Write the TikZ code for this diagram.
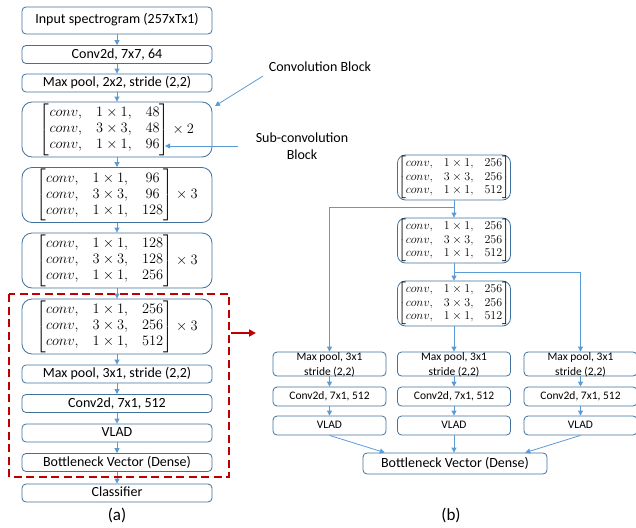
\documentclass[tikz,border=0pt]{standalone}
\usepackage{amsmath}
\usepackage{fontspec}
\setmainfont{Carlito}
\usetikzlibrary{arrows.meta,calc}
\definecolor{bord}{RGB}{65,113,156}
\definecolor{arrc}{RGB}{91,155,213}
\definecolor{dred}{RGB}{192,0,0}
\newcommand{\cmatL}[4]{$\left[\begin{array}{@{}l@{\hspace{14pt}}l@{\hspace{14pt}}c@{}} conv, & 1\times 1, & #1\\ conv, & 3\times 3, & #2\\ conv, & 1\times 1, & #3 \end{array}\right]\times #4$}
\newcommand{\cmatS}{$\left[\begin{array}{@{}l@{\hspace{11pt}}l@{\hspace{11pt}}c@{}} conv, & 1\times 1, & 256\\ conv, & 3\times 3, & 256\\ conv, & 1\times 1, & 512 \end{array}\right]$}
\tikzset{
  base/.style={draw=bord, line width=0.8pt, fill=white, inner sep=0pt},
  box/.style={base, rounded corners=4pt, minimum width=190pt, minimum height=18pt, font=\fontsize{14}{16}\selectfont, text height=10pt, text depth=3pt},
  blk/.style={base, rounded corners=10pt, minimum width=190pt, minimum height=55pt, font=\fontsize{14}{16}\selectfont},
  sbox/.style={base, rounded corners=4pt, minimum width=113pt, minimum height=19pt, font=\fontsize{11.5}{15}\selectfont, text height=8pt, text depth=2.5pt},
  sblk/.style={base, rounded corners=8pt, minimum width=113pt, minimum height=45pt, font=\fontsize{11.5}{13.5}\selectfont},
  link/.style={draw=arrc, line width=0.8pt, -{Triangle[length=5pt,width=5pt]}},
  note/.style={font=\fontsize{14}{17}\selectfont, align=center, inner sep=0pt},
  panellabel/.style={font=\fontsize{17}{20}\selectfont, inner sep=0pt},
}
\begin{document}
\begin{tikzpicture}[x=1pt,y=-1pt]
\useasboundingbox (0,0) rectangle (636,527);
% ---- panel (a)
\node[box, minimum height=27pt] (in) at (117,20.5) {Input spectrogram (257xTx1)};
\node[box] (c1) at (117,54.5) {Conv2d, 7x7, 64};
\node[box] (mp) at (117,83) {Max pool, 2x2, stride (2,2)};
\node[blk] (b1) at (117,129.5) {\cmatL{48}{48}{96}{2}};
\node[blk] (b2) at (117,195) {\cmatL{96}{96}{128}{3}};
\node[blk] (b3) at (117,260.5) {\cmatL{128}{128}{256}{3}};
\node[blk] (b4) at (117,326.5) {\cmatL{256}{256}{512}{3}};
\node[box] (mp2) at (117,374) {Max pool, 3x1, stride (2,2)};
\node[box] (cv2) at (117,403.5) {Conv2d, 7x1, 512};
\node[box] (vl) at (117,433) {VLAD};
\node[box] (bn) at (117,462.5) {Bottleneck Vector (Dense)};
\node[box] (cls) at (117,493) {Classifier};
\foreach \a/\b in {in/c1,c1/mp,mp/b1,b1/b2,b2/b3,b3/b4,b4/mp2,mp2/cv2,cv2/vl,vl/bn,bn/cls}
  \draw[link] (\a.south) -- (\b.north);
\node[panellabel] (la) at (117,515) {(a)};
% dashed region
\draw[dred, line width=1.7pt, dash pattern=on 8pt off 4.5pt] (9,294) rectangle (229,477);
\coordinate (rs) at (231,333);
\coordinate (re) at (256,333);
\draw[dred, line width=2pt, -{Triangle[length=7pt,width=7pt]}] (rs) -- (re);
% annotations
\node[note] (cbl) at (320,67) {Convolution Block};
\coordinate (cbs) at (263,76);
\coordinate (cbt) at (215,106);
\draw[link] (cbs) -- (cbt);
\node[note] (scl) at (302,146) {Sub-convolution\\Block};
\coordinate (scs) at (238,146);
\coordinate (sct) at (165,146);
\draw[link] (scs) -- (sct);
% ---- panel (b)
\node[sblk] (B1) at (454,177.5) {\cmatS};
\node[sblk] (B2) at (454,240.5) {\cmatS};
\node[sblk] (B3) at (454,303.5) {\cmatS};
\foreach \x/\n in {329.5/L,454/M,580.5/R}{
  \node[sbox, minimum height=24pt, text height=0pt, text depth=0pt] (mp\n) at (\x,364) {\raisebox{-4pt}{\smash{\begin{tabular}{@{}c@{}}Max pool, 3x1\\stride (2,2)\end{tabular}}}};
  \node[sbox] (cv\n) at (\x,396.5) {Conv2d, 7x1, 512};
  \node[sbox] (vl\n) at (\x,425.5) {VLAD};
  \draw[link] (mp\n.south) -- (cv\n.north);
  \draw[link] (cv\n.south) -- (vl\n.north);
}
\node[base, rounded corners=4pt, minimum width=184pt, minimum height=21pt, font=\fontsize{14}{16}\selectfont, text height=10pt, text depth=3pt] (BN) at (455,463.5) {Bottleneck Vector (Dense)};
\draw[link] (B1.south) -- (B2.north);
\draw[link] (B2.south) -- (B3.north);
\draw[link] (B3.south) -- (mpM.north);
\coordinate (j1) at (454,207);
\coordinate (j2) at (455,272);
\draw[link] (j1) -| (mpL.north);
\draw[link] (j2) -| (mpR.north);
\draw[link] (vlL.south) -- ($(BN.north west)!0.12!(BN.north east)$);
\draw[link] (vlM.south) -- (vlM.south |- BN.north);
\draw[link] (vlR.south) -- ($(BN.north west)!0.88!(BN.north east)$);
\node[panellabel] (lb) at (451,515) {(b)};
\end{tikzpicture}
\end{document}
